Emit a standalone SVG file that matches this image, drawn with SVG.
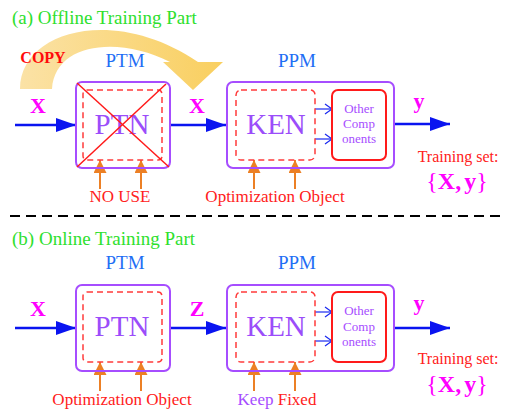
<svg xmlns="http://www.w3.org/2000/svg" width="505" height="414" viewBox="0 0 505 414" font-family="'Liberation Serif','DejaVu Serif','Times New Roman',serif">
<defs>
<style>
text{font-family:"Liberation Serif","DejaVu Serif","Times New Roman",serif}
.hdr{font-size:19px;fill:#2ee02e}
.mod{font-size:19px;fill:#1e6ef5;text-anchor:middle}
.outer{fill:none;stroke:#a64dff;stroke-width:2}
.inner{fill:none;stroke:#ff3b3b;stroke-width:1.5;stroke-dasharray:6 4}
.oc{fill:none;stroke:#ff1a1a;stroke-width:2}
.big{font-size:29px;fill:#9b4dfa;text-anchor:middle}
.small{font-size:13px;fill:#a64dff;text-anchor:middle}
.var{font-size:22px;font-weight:bold;fill:#ff00ff;text-anchor:middle}
.lab{font-size:17px;fill:#ff2020;text-anchor:middle}
.ts{font-size:16px;fill:#ff2020;text-anchor:middle}
.blue{stroke:#0a14f0;stroke-width:2.5;fill:none}
.thin{stroke:#1a2af0;stroke-width:1.2;fill:none}
.org{stroke:#ec8025;stroke-width:2;fill:none}
</style>
<marker id="bh" markerWidth="22" markerHeight="16" refX="20" refY="7" orient="auto" markerUnits="userSpaceOnUse"><path d="M0,0 L20,7 L0,14 Z" fill="#0a14f0"/></marker>
<marker id="oh" markerWidth="14" markerHeight="14" refX="13" refY="6.5" orient="auto" markerUnits="userSpaceOnUse"><path d="M0,0 L13,6.5 L0,13 Z" fill="#ec8025"/></marker>
<marker id="vh" markerWidth="10" markerHeight="12" refX="8" refY="6" orient="auto" markerUnits="userSpaceOnUse"><path d="M1,1 L8,6 L1,11" fill="none" stroke="#1a2af0" stroke-width="1.2"/></marker>
<linearGradient id="cg" x1="0" y1="0" x2="1" y2="0"><stop offset="0" stop-color="#fbe2a6"/><stop offset="1" stop-color="#f9cf5f"/></linearGradient>
</defs>
<rect width="505" height="414" fill="#fff"/>

<text class="hdr" x="12" y="24">(a) Offline Training Part</text>
<text class="hdr" x="12" y="245">(b) Online Training Part</text>

<g id="copy">
<path d="M20,89 C20,30 115,5 198,62 L223,62 L193,90 L163,62 L170,62 C120,36 55,42 52,89 Z" fill="url(#cg)"/>
<text x="43" y="63" font-size="16" font-weight="bold" fill="#ff0a0a" text-anchor="middle">COPY</text>
</g>

<line x1="10" y1="216" x2="500" y2="216" stroke="#000" stroke-width="2" stroke-dasharray="10 6"/>

<g id="connectors">
<line class="blue" x1="15" y1="125" x2="76" y2="125" marker-end="url(#bh)"/>
<line class="blue" x1="170" y1="125" x2="226" y2="125" marker-end="url(#bh)"/>
<line class="blue" x1="394" y1="124" x2="450" y2="124" marker-end="url(#bh)"/>
<line class="thin" x1="315" y1="109" x2="332" y2="109" marker-end="url(#vh)"/>
<line class="thin" x1="315" y1="139" x2="332" y2="139" marker-end="url(#vh)"/>
<line class="org" x1="100" y1="189" x2="100" y2="160" marker-end="url(#oh)"/>
<line class="org" x1="141" y1="189" x2="141" y2="160" marker-end="url(#oh)"/>
<line class="org" x1="254" y1="189" x2="254" y2="160" marker-end="url(#oh)"/>
<line class="org" x1="295" y1="189" x2="295" y2="160" marker-end="url(#oh)"/>

<line class="blue" x1="15" y1="328" x2="76" y2="328" marker-end="url(#bh)"/>
<line class="blue" x1="170" y1="328" x2="226" y2="328" marker-end="url(#bh)"/>
<line class="blue" x1="394" y1="328" x2="450" y2="328" marker-end="url(#bh)"/>
<line class="thin" x1="315" y1="312" x2="332" y2="312" marker-end="url(#vh)"/>
<line class="thin" x1="315" y1="341" x2="332" y2="341" marker-end="url(#vh)"/>
<line class="org" x1="100" y1="391" x2="100" y2="362" marker-end="url(#oh)"/>
<line class="org" x1="141" y1="391" x2="141" y2="362" marker-end="url(#oh)"/>
<line class="org" x1="254" y1="391" x2="254" y2="362" marker-end="url(#oh)"/>
<line class="org" x1="295" y1="391" x2="295" y2="362" marker-end="url(#oh)"/>
</g>

<g id="ptm-a">
<text class="mod" x="125" y="67">PTM</text>
<rect class="outer" x="76" y="82" width="94" height="86" rx="6"/>
<rect class="inner" x="83" y="90" width="79" height="70" rx="4"/>
<text class="big" x="122" y="134">PTN</text>
<line x1="77" y1="83" x2="169" y2="167" stroke="#ff1a1a" stroke-width="1.5"/>
<line x1="166" y1="84" x2="77" y2="167" stroke="#ff1a1a" stroke-width="1.5"/>
<text class="lab" x="120" y="202">NO USE</text>
</g>

<g id="ppm-a">
<text class="mod" x="297" y="67">PPM</text>
<rect class="outer" x="227" y="82" width="167" height="86" rx="6"/>
<rect class="inner" x="236" y="90" width="79" height="70" rx="5"/>
<text class="big" x="276" y="134">KEN</text>
<rect class="oc" x="332" y="90" width="54" height="70" rx="6"/>
<text class="small" x="359" y="113">Other</text>
<text class="small" x="359" y="128">Comp</text>
<text class="small" x="359" y="143">onents</text>
<text class="lab" x="275" y="202">Optimization Object</text>
</g>

<g id="labels-a">
<text class="var" x="38" y="113">X</text>
<text class="var" x="197" y="113">X</text>
<text class="var" x="419" y="108">y</text>
<text class="ts" x="458" y="162">Training set:</text>
<text x="457" y="189" text-anchor="middle" fill="#ff00ff" font-size="24"><tspan font-weight="normal">{</tspan><tspan font-weight="bold">X,</tspan><tspan font-weight="bold" dx="3">y</tspan><tspan font-weight="normal">}</tspan></text>
</g>

<g id="ptm-b">
<text class="mod" x="125" y="269">PTM</text>
<rect class="outer" x="76" y="285" width="94" height="86" rx="6"/>
<rect class="inner" x="83" y="292" width="79" height="70" rx="4"/>
<text class="big" x="122" y="336">PTN</text>
<text class="lab" x="122" y="405">Optimization Object</text>
</g>

<g id="ppm-b">
<text class="mod" x="297" y="269">PPM</text>
<rect class="outer" x="227" y="285" width="167" height="86" rx="6"/>
<rect class="inner" x="236" y="292" width="79" height="70" rx="5"/>
<text class="big" x="276" y="336">KEN</text>
<rect class="oc" x="332" y="292" width="54" height="70" rx="6"/>
<text class="small" x="359" y="315">Other</text>
<text class="small" x="359" y="331">Comp</text>
<text class="small" x="359" y="346">onents</text>
<text x="277" y="405" text-anchor="middle" font-size="17"><tspan fill="#a64dff">Keep</tspan> <tspan fill="#ff2020">Fixed</tspan></text>
</g>

<g id="labels-b">
<text class="var" x="38" y="316">X</text>
<text class="var" x="197" y="316">Z</text>
<text class="var" x="419" y="310">y</text>
<text class="ts" x="458" y="364">Training set:</text>
<text x="457" y="392" text-anchor="middle" fill="#ff00ff" font-size="24"><tspan font-weight="normal">{</tspan><tspan font-weight="bold">X,</tspan><tspan font-weight="bold" dx="3">y</tspan><tspan font-weight="normal">}</tspan></text>
</g>
</svg>
